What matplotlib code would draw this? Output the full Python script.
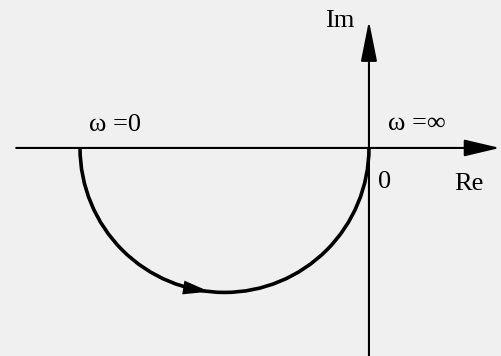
import numpy as np
import matplotlib.pyplot as plt
from matplotlib.patches import Arc

# gain of the system: w=0 lies at -K on the real axis, w=inf at the origin
K = 1.0
arrow_angle = 264  # degrees on the half circle where the direction arrow sits

plt.rcParams['font.family'] = ['Liberation Serif', 'DejaVu Serif']

fig = plt.figure(figsize=(5.01, 3.56), dpi=100, facecolor='#f0f0f0')
ax = fig.add_axes([0, 0, 1, 1])
ax.set_facecolor('#f0f0f0')
ax.set_xlim(-1.277, 0.457)
ax.set_ylim(-0.720, 0.512)
ax.set_aspect('equal')
ax.axis('off')

# real and imaginary axes
ax.annotate('', xy=(0.453, 0), xytext=(-1.221, 0),
            arrowprops=dict(arrowstyle='-|>,head_length=1.1,head_width=0.26',
                            lw=1.5, color='black', mutation_scale=20,
                            shrinkA=0, shrinkB=0))
ax.annotate('', xy=(0, 0.440), xytext=(0, -0.72),
            arrowprops=dict(arrowstyle='-|>,head_length=1.25,head_width=0.25',
                            lw=1.5, color='black', mutation_scale=20,
                            shrinkA=0, shrinkB=0))

# Nyquist locus: lower half circle from -K to 0
ax.add_patch(Arc((-K / 2, 0), K, K, theta1=180, theta2=360,
                 lw=2.6, color='black'))

# direction arrow on the locus (increasing w)
t0 = np.radians(arrow_angle - 6)
t1 = np.radians(arrow_angle)
p0 = (-K / 2 + K / 2 * np.cos(t0), K / 2 * np.sin(t0))
p1 = (-K / 2 + K / 2 * np.cos(t1), K / 2 * np.sin(t1))
ax.annotate('', xy=p1, xytext=p0,
            arrowprops=dict(arrowstyle='-|>,head_length=0.95,head_width=0.25',
                            lw=0, color='black', mutation_scale=20,
                            shrinkA=0, shrinkB=0))

ax.text(-0.10, 0.440, 'Im', fontsize=19, ha='center', va='center')
ax.text(0.345, -0.125, 'Re', fontsize=19, ha='center', va='center')
ax.text(0.055, -0.118, '0', fontsize=19, ha='center', va='center')
ax.text(0.165, 0.083, 'ω =∞', fontsize=19, ha='center', va='center')
ax.text(-0.880, 0.078, 'ω =0', fontsize=19, ha='center', va='center')

fig.savefig('out.png', dpi=100, facecolor=fig.get_facecolor())
